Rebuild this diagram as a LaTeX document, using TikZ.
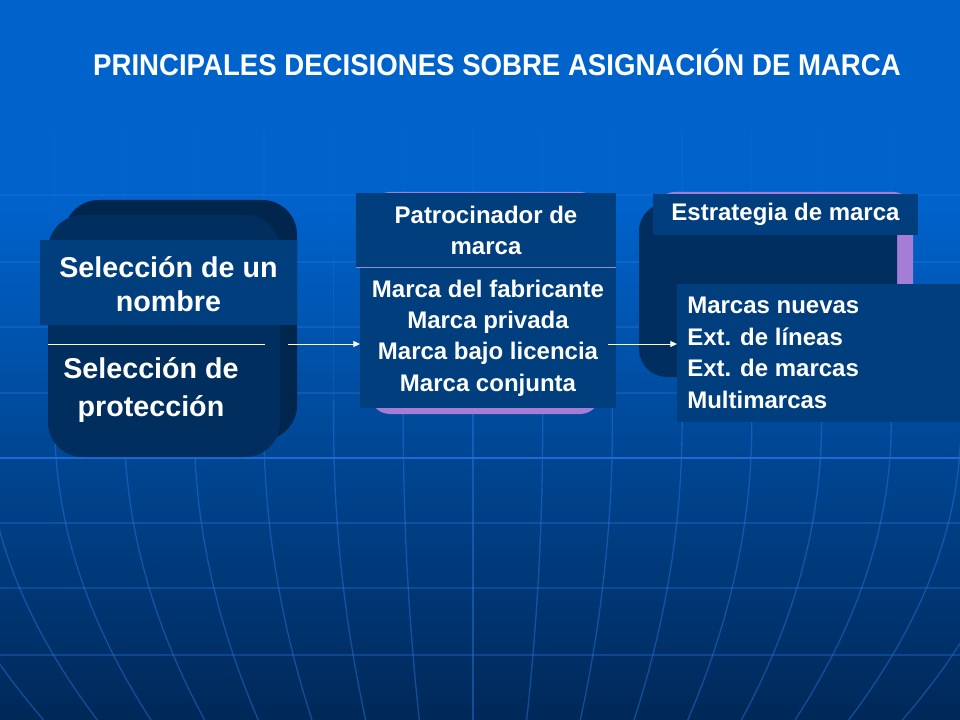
\documentclass[tikz,border=0pt]{standalone}
\usepackage{fontspec}
\setmainfont{Liberation Sans}
\usetikzlibrary{arrows.meta,fit}
\definecolor{bgtop}{RGB}{0,99,204}
\definecolor{bgbot}{RGB}{0,40,88}
\definecolor{txtbox}{RGB}{0,62,126}
\definecolor{navyfront}{RGB}{0,46,94}
\definecolor{navyback}{RGB}{0,38,78}
\definecolor{lav}{RGB}{165,125,215}
\definecolor{sepc}{RGB}{150,140,210}
\definecolor{gridc}{RGB}{40,120,225}
\definecolor{hbright}{RGB}{30,110,222}
\begin{document}
\begin{tikzpicture}[x=0.75pt,y=-0.75pt,
  tb/.style={fill=txtbox, inner sep=0pt, outer sep=0pt},
  backbox/.style={fill=navyback, inner sep=0pt, rounded corners=26pt},
  frontbox/.style={fill=navyfront, inner sep=0pt, rounded corners=26pt},
  lavbox/.style={fill=lav, inner sep=0pt, rounded corners=15pt},
  big/.style={text=white, font=\fontsize{21.5}{25.5}\selectfont\bfseries, align=center, inner sep=0pt},
  small/.style={text=white, font=\fontsize{18}{23.6}\selectfont\bfseries, align=center, inner sep=0pt},
  conn/.style={draw=white, line width=0.75pt, -{Triangle[length=5pt,width=4.5pt]}},
  meridian/.style={draw=gridc, line width=1pt},
  hline/.style={draw=gridc, line width=1.3pt, opacity=0.32},
]
\useasboundingbox (0,0) rectangle (960,720);
\begin{scope}
\clip (0,0) rectangle (960,720);
\fill[bgtop] (0,0) rectangle (960,201);
\shade[top color=bgtop, bottom color=bgbot] (0,200) rectangle (960,720);
\foreach \k in {-8,...,8} {
  \foreach \ya/\yb/\op in {130/260/0.1, 260/400/0.25, 400/720/0.45} {
    \draw[meridian, opacity=\op] plot[domain=\ya:\yb, samples=25, variable=\t]
      ({473+69.7*\k*(1-0.23*((max(\t,424)-424)/296)*((max(\t,424)-424)/296))}, {\t});
  }
}
\foreach \yy in {195,262,327,393,523,588,655} {
  \draw[hline] (0,\yy) -- (960,\yy);
}
\draw[draw=hbright, line width=1.9pt, opacity=0.9] (0,458) -- (960,458);
\end{scope}

% title
\node[text=white, inner sep=0pt] (title) at (497,62)
  {\fontsize{22.5}{27}\selectfont\bfseries\scalebox{0.92}[1]{PRINCIPALES DECISIONES SOBRE ASIGNACIÓN DE MARCA}};

% box 1
\node[backbox, fit={(64,200) (297,440)}] (b1back) {};
\node[frontbox, fit={(48,215) (280,457)}] (b1front) {};
\node[tb, fit={(40,240) (297,325)}] (nombre) {};
\coordinate (sepL) at (48,344);
\coordinate (sepR) at (265,344);
\draw[white, line width=0.75pt] (sepL) -- (sepR);
\node[big] (t1) at (168.5,284) {Selección de un\\nombre};
\node[big, font=\fontsize{21.5}{28.5}\selectfont\bfseries] (t2) at (151,390) {Selección de\\protección};

% box 2
\node[lavbox, fit={(370,192) (600,414)}] (b2lav) {};
\node[tb, fit={(356,193) (616,268)}] (hdr2) {};
\node[tb, fit={(360,268) (616,408)}] (low2) {};
\draw[sepc, line width=0.75pt] (hdr2.south west) -- (hdr2.south east);
\node[small] (t3) at (hdr2.center) {Patrocinador de\\marca};
\node[small] (t4) at (low2.center) {Marca del fabricante\\Marca privada\\Marca bajo licencia\\Marca conjunta};

% box 3
\node[lavbox, fit={(655,192) (913,360)}] (b3lav) {};
\node[frontbox, rounded corners=21pt, fit={(639,203) (897,377)}] (b3front) {};
\node[tb, fit={(653,194) (918,235)}] (hdr3) {};
\node[tb, fit={(677,284) (960,422)}] (low3) {};
\node[small] (t5) at (hdr3.center) {Estrategia de marca};
\node[small, align=left, anchor=west] (t6) at (687,353) {Marcas nuevas\\Ext. de líneas\\Ext. de marcas\\Multimarcas};

% connectors
\coordinate (a1) at (288,344);
\draw[conn] (a1) -- (a1 -| low2.west);
\coordinate (a2) at (608,344);
\draw[conn] (a2) -- (a2 -| low3.west);
\end{tikzpicture}
\end{document}
